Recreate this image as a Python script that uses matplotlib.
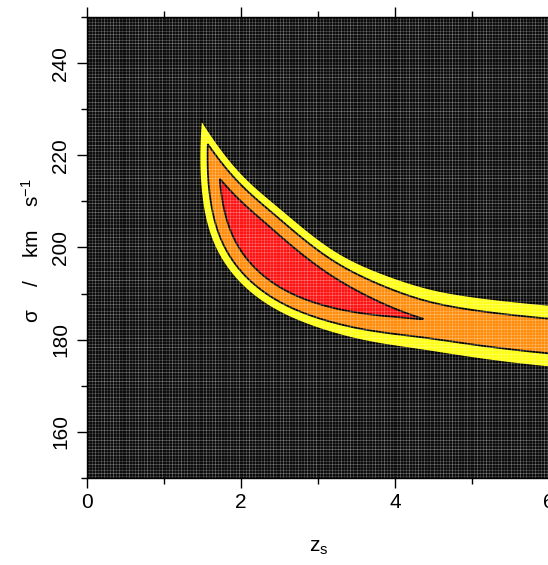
import numpy as np
import matplotlib
matplotlib.use("Agg")
import matplotlib.pyplot as plt
from matplotlib.collections import LineCollection

plt.rcParams["font.family"] = ["Liberation Sans", "DejaVu Sans"]
plt.rcParams["mathtext.fontset"] = "custom"
plt.rcParams["mathtext.rm"] = "Liberation Sans"
plt.rcParams["mathtext.it"] = "Liberation Sans:italic"

# ---------------- data / model parameters ----------
x_limits = (0.0, 6.0)
y_limits = (150.0, 250.0)
x_major = [0, 2, 4, 6]
x_minor = [1, 3, 5]
y_major = [160, 180, 200, 220, 240]
y_minor = [150, 170, 190, 210, 230, 250]

# degeneracy ridge: sigma = s_inf + amp * X,  X = 1/(z_s - z_l)
ridge_s_inf = 172.5
ridge_amp = 44.1
ridge_z_l = 0.685
# penalty along the ridge
pen_tip_start, pen_tip_slope = 0.66, 3.3      # low-z_s (tip) side
pen_tail_start, pen_tail_slope = 0.46, 5.4    # high-z_s side
pen_tail_sat = 1.06
pen_soft = 0.06
# width across the ridge (pixels of the original plot)
width_tip, width_mid, width_tail = 20.0, 23.0, 35.5
px_per_z = 77.0
sig_per_z = 16.65
# contour levels (1, 2, 3 sigma) and fills
conf_levels = [1.0, 1.56, 1.96]
conf_colors = ["#ff1414", "#ff8c0a", "#ffff14"]


def softplus(x, s):
    return s * np.logaddexp(0.0, x / s)


def penalty(X):
    tip = pen_tip_slope * softplus(X - pen_tip_start, pen_soft)
    tail = pen_tail_slope * softplus(pen_tail_start - X, pen_soft)
    a = 12.0
    tail = -np.logaddexp(-a * tail, -a * pen_tail_sat) / a
    tail = np.clip(tail, 0, None)
    return tip + tail


def width(X):
    w = width_tip + (width_mid - width_tip) * (1 + np.tanh((0.75 - X) / 0.25)) / 2
    w = w + (width_tail - width_mid) * (1 + np.tanh((0.32 - X) / 0.10)) / 2
    return w / px_per_z


zg = np.linspace(0, 6, 421)
sg = np.linspace(150, 250, 351)
Zg, Sg = np.meshgrid(zg, sg)
Xr = np.linspace(0.1, 1.4, 1500)
zr = ridge_z_l + 1.0 / Xr
sr = ridge_s_inf + ridge_amp * Xr
pxs = Zg.ravel()
pys = Sg.ravel() / sig_per_z
rys = sr / sig_per_z
Hr = penalty(Xr)
Wr = width(Xr)
chi = np.empty(pxs.size)
step = 1500
for i in range(0, pxs.size, step):
    dx = pxs[i:i + step, None] - zr[None, :]
    dy = pys[i:i + step, None] - rys[None, :]
    c = np.sqrt(dx * dx + dy * dy) / Wr[None, :] + Hr[None, :]
    chi[i:i + step] = c.min(axis=1)
chi = chi.reshape(Zg.shape)

# ---------------- figure ----------------
W, H = 548, 565
fig = plt.figure(figsize=(W / 100, H / 100), dpi=100)
ax = fig.add_axes([87 / W, 1 - 478 / H, 462 / W, 461 / H])
ax.set_facecolor("#0c0c0c")

ax.contourf(Zg, Sg, chi, levels=[-1.0] + conf_levels,
            colors=conf_colors, zorder=2)
ax.contour(Zg, Sg, chi, levels=conf_levels, colors="black",
           linewidths=1.3, zorder=3)

# fine grid texture of the likelihood image
n_lines = 150
pos = (np.arange(n_lines) + 0.5) / n_lines
alph = 0.12 + 0.20 * (((np.arange(n_lines) * 37) % 11) / 10.0)
segs_v = [[(p, 0), (p, 1)] for p in pos]
segs_h = [[(0, p), (1, p)] for p in pos]
cols = [(1, 1, 1, a) for a in alph]
ax.add_collection(LineCollection(segs_v, colors=cols, linewidths=0.6,
                                 transform=ax.transAxes, zorder=4))
ax.add_collection(LineCollection(segs_h, colors=cols[::-1], linewidths=0.6,
                                 transform=ax.transAxes, zorder=4))

ax.set_xlim(*x_limits)
ax.set_ylim(*y_limits)
ax.set_xticks(x_major)
ax.set_xticks(x_minor, minor=True)
ax.set_yticks(y_major)
ax.set_yticks(y_minor, minor=True)
ax.tick_params(which="both", direction="out", top=True, right=False,
               width=1.0, colors="black", labelsize=15)
ax.tick_params(which="major", length=7.2)
ax.tick_params(which="minor", length=4.3)
ax.tick_params(axis="x", pad=3.5)
ax.tick_params(axis="y", labelrotation=90, pad=5)
for lab in ax.get_yticklabels():
    lab.set_va("center")
for sp in ax.spines.values():
    sp.set_linewidth(1.0)
    sp.set_zorder(6)

fig.text(319 / W, 1 - 552 / H, r"z$_\mathregular{s}$", ha="center",
         va="baseline", fontsize=15)
fig.text(32 / W, 1 - 251 / H, "σ    /    km    s$^{\\mathregular{-1}}$",
         ha="center", va="center", rotation=90, fontsize=15)

fig.savefig("out.png", dpi=100, facecolor="white")
